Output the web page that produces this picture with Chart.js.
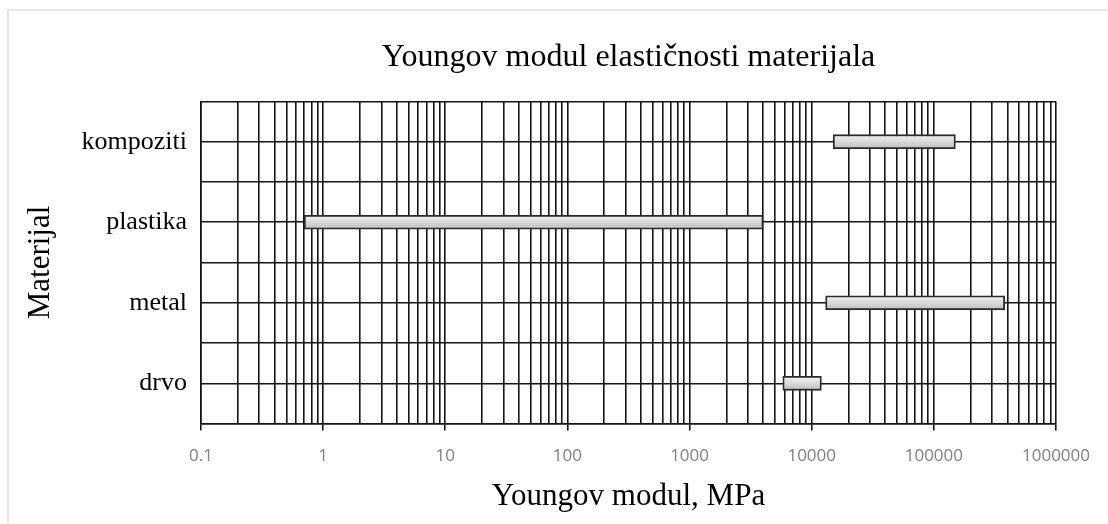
<!DOCTYPE html>
<html><head><meta charset="utf-8">
<script src="https://cdn.jsdelivr.net/npm/chart.js@4/dist/chart.umd.min.js"></script>
<style>
html,body{margin:0;padding:0;background:#fff;width:1108px;height:524px;overflow:hidden}
#frame{position:absolute;left:7px;top:9px;width:1200px;height:600px;border-left:2px solid #e6e6e6;border-top:2px solid #e6e6e6}
#wrap{position:absolute;left:0;top:0;width:1108px;height:524px}
</style></head><body>
<div id="frame"></div>
<div id="wrap"><canvas id="c" width="1108" height="524"></canvas></div>
<script>
const categories = ['kompoziti', 'plastika', 'metal', 'drvo'];
const minValues = [15000, 0.7, 13000, 5800];
const maxValues = [150000, 4000, 380000, 12000];
const decades = [0.1, 1, 10, 100, 1000, 10000, 100000, 1000000];
const tickLabels = ['0.1', '1', '10', '100', '1000', '10000', '100000', '1000000'];
const multipliers = [1, 2, 3, 4, 5, 6, 7, 8, 9];

const ranges = categories.map((c, i) => [minValues[i], maxValues[i]]);
const gridColor = '#151515';

function barFill(ctx) {
  const chart = ctx.chart;
  const ys = chart.scales && chart.scales.y;
  if (!ys || ctx.dataIndex === undefined) return '#d4d4d4';
  const y = ys.getPixelForValue(ctx.dataIndex);
  if (!isFinite(y)) return '#d4d4d4';
  const g = chart.ctx.createLinearGradient(0, y - 7, 0, y + 7);
  g.addColorStop(0, '#f2f2f2');
  g.addColorStop(0.45, '#dcdcdc');
  g.addColorStop(1, '#bdbdbd');
  return g;
}

new Chart(document.getElementById('c'), {
  type: 'bar',
  data: {
    labels: categories,
    datasets: [{
      data: ranges,
      backgroundColor: barFill,
      borderColor: '#2a2a2a',
      borderWidth: 1.8,
      borderSkipped: false,
      barThickness: 14,
      yAxisID: 'y'
    }]
  },
  options: {
    indexAxis: 'y',
    responsive: false,
    animation: false,
    layout: { padding: { left: 0, right: 52, top: 0, bottom: 12 } },
    plugins: {
      legend: { display: false },
      tooltip: { enabled: false },
      title: {
        display: true,
        fullSize: false,
        text: 'Youngov modul elastičnosti materijala',
        color: '#000',
        font: { family: 'Liberation Serif', size: 32, weight: 'normal' },
        padding: { top: 38, bottom: 25 }
      }
    },
    scales: {
      x: {
        type: 'logarithmic',
        min: 0.1,
        max: 1000000,
        afterBuildTicks(scale) {
          const t = [];
          decades.forEach(d => {
            if (d === decades[decades.length - 1]) { t.push({ value: d }); return; }
            multipliers.forEach(m => t.push({ value: d * m }));
          });
          scale.ticks = t;
        },
        ticks: {
          autoSkip: false,
          maxRotation: 0,
          minRotation: 0,
          color: '#7f7f7f',
          padding: 15,
          font: { family: 'Open Sans', size: 17 },
          callback: (v) => { const i = decades.indexOf(v); return i >= 0 ? tickLabels[i] : ''; }
        },
        grid: {
          color: gridColor,
          lineWidth: 1.6,
          tickLength: 7,
          tickColor: (ctx) => (ctx.tick && decades.indexOf(ctx.tick.value) >= 0) ? gridColor : 'rgba(0,0,0,0)'
        },
        border: { display: true, color: gridColor, width: 1.6 },
        title: {
          display: true,
          text: 'Youngov modul, MPa',
          color: '#000',
          font: { family: 'Liberation Serif', size: 31, lineHeight: 1 },
          padding: { top: 0, bottom: 0 }
        }
      },
      y: {
        type: 'category',
        position: 'left',
        offset: true,
        afterFit(scale) { scale.width = 201; },
        grid: { offset: true, color: gridColor, lineWidth: 1.6, drawTicks: false },
        border: { display: true, color: gridColor, width: 1.6 },
        ticks: {
          color: '#000',
          padding: 14,
          font: { family: 'Liberation Serif', size: 26 }
        },
        title: {
          display: true,
          text: 'Materijal',
          color: '#000',
          font: { family: 'Liberation Serif', size: 31 },
          padding: { top: 22, bottom: 0 }
        }
      },
      y2: {
        type: 'category',
        position: 'right',
        offset: true,
        afterFit(scale) { scale.width = 0; },
        grid: { offset: false, color: gridColor, lineWidth: 1.6, drawTicks: false },
        border: { display: false },
        ticks: { display: false }
      }
    }
  }
});
</script>
</body></html>
